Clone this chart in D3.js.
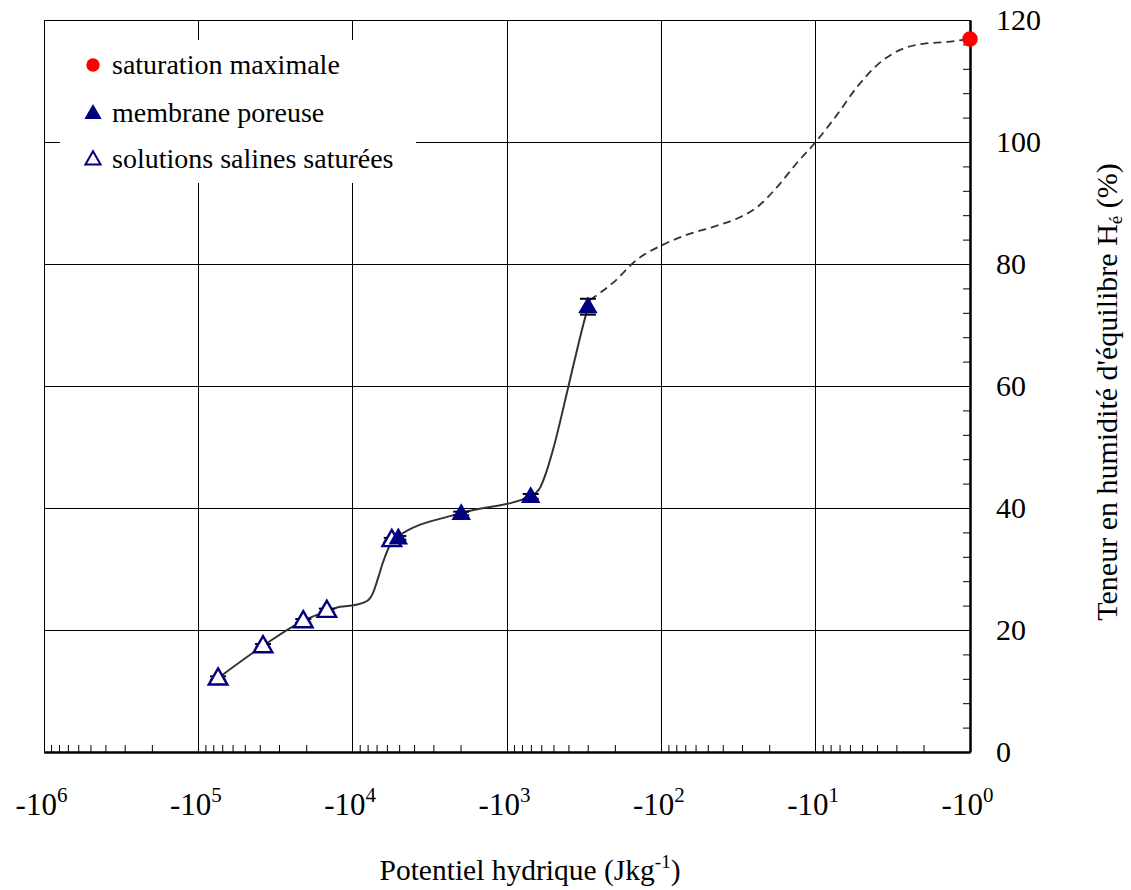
<!DOCTYPE html>
<html>
<head>
<meta charset="utf-8">
<script src="https://cdn.jsdelivr.net/npm/d3@7"></script>
<style>
  body { margin: 0; background: #fff; }
</style>
</head>
<body>
<svg id="chart" width="1131" height="890"></svg>
<script>
// values (potentiel hydrique in J/kg, teneur in %)
const xMajor = [-1e6, -1e5, -1e4, -1e3, -1e2, -1e1, -1];
const xExponents = ["6", "5", "4", "3", "2", "1", "0"];
const yTicks = [0, 20, 40, 60, 80, 100, 120];

const salinePsi = [-74500, -38100, -20900, -14700, -5580];
const salineH   = [12.1, 17.4, 21.5, 23.2, 34.8];
const salineErr = [0.3, 0.3, 0.3, 0.3, 0.3];

const membranePsi = [-5060, -1980, -702, -299];
const membraneH   = [35.1, 39.1, 41.9, 73.0];
const membraneErr = [0.3, 0.3, 0.4, 1.3];

const satPsi = [-1];
const satH   = [116.9];

// fitted curve (solid part)
const fitPsi = [-74570, -38100, -20990, -14660, -12080, -9660, -8070, -7380, -6850, -6360,
                -5730, -5240, -1958, -698, -611, -551, -504, -391, -327, -290];
const fitH   = [12.1, 17.4, 21.5, 23.1, 23.8, 24.1, 24.75, 26.1, 28.5, 31.1,
                33.9, 35.1, 39.2, 42.0, 43.3, 46.2, 49.5, 61.0, 69.2, 74.1];

// extrapolation up to saturation (dashed part)
const extPsi = [-290, -206, -144, -99, -68, -46, -32, -24, -17.8, -13.2,
                -10, -7.3, -5.4, -4.0, -2.84, -2.01, -1.41, -1];
const extH   = [74.1, 76.9, 80.7, 83.1, 84.8, 86.1, 87.5, 89.3, 92.6, 96.6,
                100, 104.4, 109.0, 112.6, 115.1, 116.1, 116.4, 116.9];

const legendLabels = ["saturation maximale", "membrane poreuse", "solutions salines saturées"];

const navy = "#000080";
const serif = "'Liberation Serif', 'DejaVu Serif', serif";
const svg = d3.select("#chart");
const margin = {top: 20, right: 161, bottom: 138, left: 44};
const width = +svg.attr("width") - margin.left - margin.right;
const height = +svg.attr("height") - margin.top - margin.bottom;

const g = svg.append("g").attr("transform", "translate(" + margin.left + "," + margin.top + ")");

const x = d3.scaleLog().domain([-1e6, -1]).range([0, width]);
const y = d3.scaleLinear().domain([0, 120]).range([height, 0]);

// grid
g.append("g").selectAll("line").data(xMajor).join("line")
  .attr("x1", d => x(d)).attr("x2", d => x(d))
  .attr("y1", 0).attr("y2", height)
  .attr("stroke", "#000").attr("stroke-width", 1).attr("shape-rendering", "crispEdges");
g.append("g").selectAll("line").data(yTicks).join("line")
  .attr("x1", 0).attr("x2", width)
  .attr("y1", d => y(d)).attr("y2", d => y(d))
  .attr("stroke", "#000").attr("stroke-width", 1).attr("shape-rendering", "crispEdges");

// minor ticks, x
const xMinor = x.ticks().filter(v => {
  const l = Math.log10(Math.abs(v));
  return Math.abs(l - Math.round(l)) > 1e-6;
});
const xAxisMinor = g.append("g").attr("transform", "translate(0," + height + ")")
  .call(d3.axisBottom(x).tickValues(xMinor).tickSizeInner(-7).tickSizeOuter(0).tickFormat(""));
xAxisMinor.select(".domain").attr("stroke-width", 2.5);

// major labels, x
const xAxis = g.append("g").attr("transform", "translate(0," + height + ")")
  .call(d3.axisBottom(x).tickValues(xMajor).tickSize(0).tickFormat(""));
xAxis.select(".domain").remove();
xAxis.selectAll(".tick").each(function(d, i) {
  const t = d3.select(this).append("text")
    .attr("y", 63).attr("x", -3).attr("text-anchor", "middle").attr("fill", "#000")
    .style("font-family", serif).style("font-size", "31px");
  t.append("tspan").text("-10");
  t.append("tspan").attr("dy", -13).style("font-size", "21px").text(xExponents[i]);
});

// y axis on the right
const yMinor = d3.range(0, 121, 4).filter(v => v % 20 !== 0);
const yAxisMinor = g.append("g").attr("transform", "translate(" + width + ",0)")
  .call(d3.axisRight(y).tickValues(yMinor).tickSizeInner(-7).tickSizeOuter(0).tickFormat(""));
yAxisMinor.select(".domain").attr("stroke-width", 2.5);

const yAxis = g.append("g").attr("transform", "translate(" + width + ",0)")
  .call(d3.axisRight(y).tickValues(yTicks).tickSize(0).tickPadding(26).tickFormat(d3.format("d")));
yAxis.select(".domain").remove();
yAxis.selectAll("text").attr("fill", "#000")
  .style("font-family", serif).style("font-size", "30px");

// legend background
const legend = g.append("g");
legend.append("rect").attr("x", 16).attr("y", 20).attr("width", 356).attr("height", 143).attr("fill", "#fff");

// curves
const line = d3.line().x(d => x(d[0])).y(d => y(d[1])).curve(d3.curveMonotoneX);
g.append("path").datum(d3.zip(fitPsi, fitH))
  .attr("fill", "none").attr("stroke", "#333").attr("stroke-width", 2)
  .attr("d", line);
g.append("path").datum(d3.zip(extPsi, extH))
  .attr("fill", "none").attr("stroke", "#333").attr("stroke-width", 1.8)
  .attr("stroke-dasharray", "8,5")
  .attr("d", line);

// error caps
function errorCaps(psi, h, err) {
  const d = d3.zip(psi, h, err);
  const eg = g.append("g").attr("stroke", "#000").attr("stroke-width", 2);
  eg.selectAll("line.up").data(d).join("line")
    .attr("x1", d => x(d[0]) - 8).attr("x2", d => x(d[0]) + 8)
    .attr("y1", d => y(d[1] + d[2])).attr("y2", d => y(d[1] + d[2]));
  eg.selectAll("line.dn").data(d).join("line")
    .attr("x1", d => x(d[0]) - 8).attr("x2", d => x(d[0]) + 8)
    .attr("y1", d => y(d[1] - d[2])).attr("y2", d => y(d[1] - d[2]));
}
errorCaps(salinePsi, salineH, salineErr);
errorCaps(membranePsi, membraneH, membraneErr);

const tri = d3.symbol().type(d3.symbolTriangle).size(165);
const triOpen = d3.symbol().type(d3.symbolTriangle).size(150);
const circ = d3.symbol().type(d3.symbolCircle).size(190);

g.append("g").selectAll("path").data(d3.zip(salinePsi, salineH)).join("path")
  .attr("d", triOpen)
  .attr("transform", d => "translate(" + x(d[0]) + "," + (y(d[1]) + 1) + ")")
  .attr("fill", "#fff").attr("stroke", navy).attr("stroke-width", 2.4);

g.append("g").selectAll("path").data(d3.zip(membranePsi, membraneH)).join("path")
  .attr("d", tri)
  .attr("transform", d => "translate(" + x(d[0]) + "," + (y(d[1]) + 1) + ")")
  .attr("fill", navy);

g.append("g").selectAll("path").data(d3.zip(satPsi, satH)).join("path")
  .attr("d", circ)
  .attr("transform", d => "translate(" + x(d[0]) + "," + y(d[1]) + ")")
  .attr("fill", "#ff0000");

// legend entries
const legY = [45, 93, 139];
legend.append("path").attr("d", d3.symbol().type(d3.symbolCircle).size(140))
  .attr("transform", "translate(49," + legY[0] + ")").attr("fill", "#ff0000");
legend.append("path").attr("d", d3.symbol().type(d3.symbolTriangle).size(130))
  .attr("transform", "translate(49," + (legY[1] + 1) + ")").attr("fill", navy);
legend.append("path").attr("d", d3.symbol().type(d3.symbolTriangle).size(100))
  .attr("transform", "translate(49," + (legY[2] + 1) + ")")
  .attr("fill", "#fff").attr("stroke", navy).attr("stroke-width", 2);
legend.selectAll("text").data(legendLabels).join("text")
  .attr("x", 68).attr("y", (d, i) => legY[i]).attr("dy", "0.33em").attr("fill", "#000")
  .style("font-family", serif).style("font-size", "28px").text(d => d);

// axis titles
const xt = svg.append("text").attr("x", 530).attr("y", 880).attr("text-anchor", "middle")
  .attr("fill", "#000").style("font-family", serif).style("font-size", "29.5px");
xt.append("tspan").text("Potentiel hydrique (Jkg");
xt.append("tspan").attr("dy", -12).style("font-size", "19px").text("-1");
xt.append("tspan").attr("dy", 12).text(")");

const yt = svg.append("text")
  .attr("transform", "translate(1117,392) rotate(-90)")
  .attr("text-anchor", "middle").attr("fill", "#000")
  .style("font-family", serif).style("font-size", "30px");
yt.append("tspan").text("Teneur en humidité d'équilibre H");
yt.append("tspan").attr("dy", 5).style("font-size", "19px").text("é");
yt.append("tspan").attr("dy", -5).text(" (%)");
</script>
</body>
</html>
